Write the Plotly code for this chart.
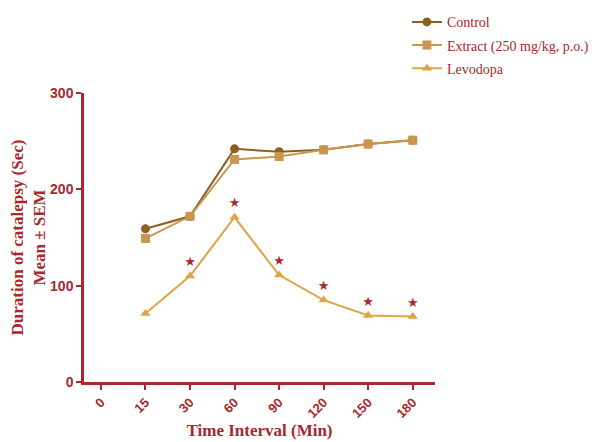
import plotly.graph_objects as go

time_labels = ["0", "15", "30", "60", "90", "120", "150", "180"]
x_labels = ["15", "30", "60", "90", "120", "150", "180"]
control = [159, 172, 242, 239, 241, 247, 251]
extract = [149, 172, 231, 234, 241, 247, 251]
levodopa = [71, 110, 171, 111, 85, 69, 68]
sig_labels = ["", "★", "★", "★", "★", "★", "★"]

axis_red = "#a8282c"
c_control = "#8e5f24"
c_extract = "#c8964f"
c_levo = "#dfa448"

fig = go.Figure()
fig.add_trace(go.Scatter(x=x_labels, y=control, name="Control", mode="lines+markers",
                         legendgroup="a",
                         line=dict(color=c_control, width=2),
                         marker=dict(symbol="circle", size=9, color=c_control)))
fig.add_trace(go.Scatter(x=x_labels, y=extract, name="Extract (250 mg/kg, p.o.)", mode="lines+markers",
                         legendgroup="b",
                         line=dict(color=c_extract, width=2),
                         marker=dict(symbol="square", size=9, color=c_extract)))
fig.add_trace(go.Scatter(x=x_labels, y=levodopa, name="Levodopa", mode="lines+markers+text",
                         legendgroup="c",
                         line=dict(color=c_levo, width=2),
                         marker=dict(symbol="triangle-up", size=9, color=c_levo),
                         text=sig_labels, textposition="top center",
                         textfont=dict(family="DejaVu Sans", size=13, color=axis_red)))

# page body has an 8px margin, so the figure is 8px smaller and margins shifted
fig.update_layout(
    width=589, height=434,
    margin=dict(l=76, r=162, t=85, b=60, autoexpand=False),
    plot_bgcolor="white", paper_bgcolor="white",
    legend=dict(x=0.92, y=1.30, xanchor="left", yanchor="top",
                font=dict(family="Liberation Serif", size=14, color=axis_red),
                bgcolor="rgba(0,0,0,0)", tracegroupgap=2, itemwidth=30),
    xaxis=dict(type="category", categoryorder="array", categoryarray=time_labels,
               range=[-0.38, 7.5], showgrid=False, zeroline=False, automargin=False,
               showline=True, linecolor=axis_red, linewidth=2.5,
               ticks="outside", tickcolor=axis_red, tickwidth=2, ticklen=5,
               tickangle=-45,
               tickfont=dict(family="Liberation Sans", size=13, color=axis_red, weight="bold"),
               title=dict(text="<b>Time Interval (Min)</b>", standoff=2,
                          font=dict(family="Liberation Serif", size=17, color=axis_red))),
    yaxis=dict(range=[0, 300], tickvals=[0, 100, 200, 300], showgrid=False, zeroline=False,
               automargin=False,
               showline=True, linecolor=axis_red, linewidth=2.5,
               ticks="outside", tickcolor=axis_red, tickwidth=2, ticklen=5,
               tickfont=dict(family="Liberation Sans", size=14, color=axis_red, weight="bold"),
               title=dict(text="<b>Duration of catalepsy (Sec)<br>Mean ± SEM</b>", standoff=8,
                          font=dict(family="Liberation Serif", size=17, color=axis_red))),
)

fig.write_html("out.html")
